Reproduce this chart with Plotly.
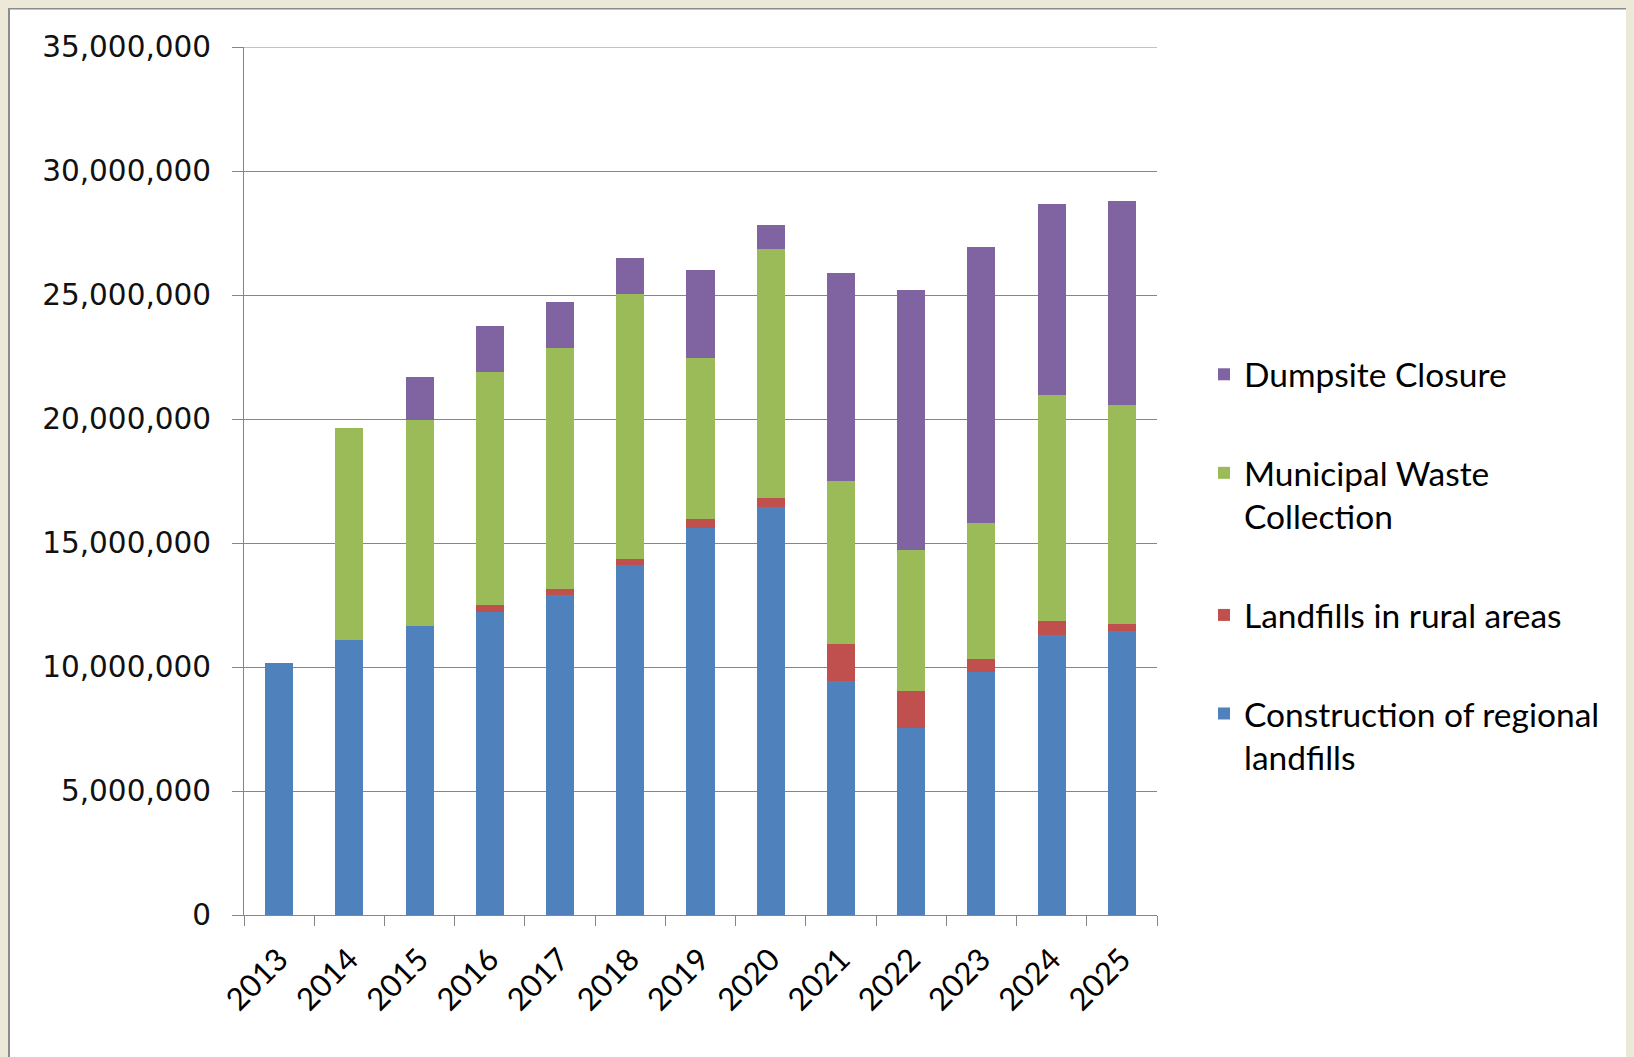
import plotly.graph_objects as go

years = ["2013", "2014", "2015", "2016", "2017", "2018", "2019",
         "2020", "2021", "2022", "2023", "2024", "2025"]

construction_regional = [10150000, 11100000, 11650000, 12200000, 12900000, 14100000, 15600000,
                         16450000, 9450000, 7550000, 9800000, 11300000, 11450000]
landfills_rural = [0, 0, 0, 300000, 250000, 250000, 350000,
                   350000, 1470000, 1480000, 530000, 550000, 270000]
municipal_waste = [0, 8520000, 8310000, 9390000, 9710000, 10690000, 6490000,
                   10050000, 6600000, 5680000, 5470000, 9120000, 8830000]
dumpsite_closure = [0, 0, 1720000, 1850000, 1850000, 1470000, 3560000,
                    970000, 8360000, 10500000, 11130000, 7690000, 8230000]

y_ticks = [0, 5000000, 10000000, 15000000, 20000000, 25000000, 30000000, 35000000]
y_tick_text = ["0", "5,000,000", "10,000,000", "15,000,000", "20,000,000",
               "25,000,000", "30,000,000", "35,000,000"]

series = [
    ("Construction of regional<br>landfills", construction_regional, "#4F81BD"),
    ("Landfills in rural areas", landfills_rural, "#C0504D"),
    ("Municipal Waste<br>Collection", municipal_waste, "#9BBB59"),
    ("Dumpsite Closure", dumpsite_closure, "#8064A2"),
]

fig = go.Figure()
for i, (name, vals, color) in enumerate(series):
    fig.add_trace(go.Bar(
        x=years, y=vals, name=name, legendgroup=f"g{i}",
        legendrank=len(series) - i,
        marker=dict(color=color, line=dict(width=0)),
    ))

# page body has an 8px margin; figure coordinates are page coordinates minus 8
W, H = 1626, 1049
L, R, T, B = 236, 477, 39, 142
pw = W - L - R
ph = H - T - B

def px_x(p):
    return (p - L) / pw

def px_y(p):
    return (H - B - p) / ph

fig.update_layout(
    width=W, height=H,
    barmode="stack",
    bargap=0.6,
    margin=dict(l=L, r=R, t=T, b=B, pad=0),
    paper_bgcolor="white",
    plot_bgcolor="white",
    font=dict(family="Lato, sans-serif", color="black"),
    showlegend=True,
    legend=dict(
        x=px_x(1196), y=px_y(338), xanchor="left", yanchor="top",
        traceorder="grouped", tracegroupgap=52, valign="top",
        font=dict(family="Lato, sans-serif", size=33.5, color="black"),
        bgcolor="rgba(0,0,0,0)",
    ),
    shapes=[
        dict(
            type="rect", xref="paper", yref="paper", layer="below",
            x0=px_x(1), x1=px_x(1625), y0=px_y(1080), y1=px_y(0.5),
            fillcolor="white", line=dict(color="#8C8C8C", width=2),
        ),
        dict(
            type="line", xref="paper", yref="y", layer="below",
            x0=0, x1=1, y0=y_ticks[-1], y1=y_ticks[-1],
            line=dict(color="#868686", width=1),
        ),
    ],
    xaxis=dict(
        type="category",
        showgrid=False,
        showline=True, linecolor="#868686", linewidth=1,
        ticks="outside", tickson="boundaries", ticklen=10, tickcolor="#868686",
        tickangle=-45,
        tickfont=dict(family="Lato, sans-serif", size=31, color="black"),
        ticklabelstandoff=13,
    ),
    yaxis=dict(
        range=[0, 35000000],
        tickvals=y_ticks, ticktext=y_tick_text,
        showgrid=True, gridcolor="#868686", gridwidth=1,
        showline=True, linecolor="#868686", linewidth=1,
        ticks="outside", ticklen=11, tickcolor="#868686",
        tickfont=dict(family="DejaVu Sans, sans-serif", size=29.5, color="#111111"),
        ticklabelstandoff=15,
        zeroline=False,
    ),
)

fig.write_html(
    "out.html",
    post_script="document.body.style.backgroundColor='#ECE9D8';",
)
